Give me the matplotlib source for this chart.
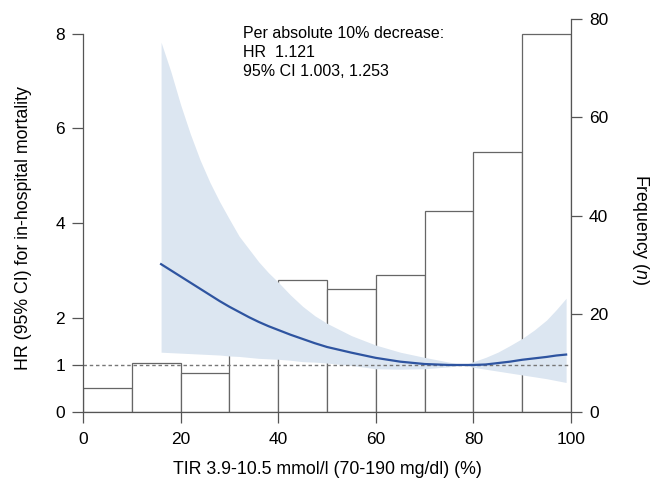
import matplotlib.pyplot as plt

plt.rcParams['font.family'] = ['Liberation Sans', 'DejaVu Sans']
plt.rcParams['mathtext.fontset'] = 'custom'
plt.rcParams['mathtext.rm'] = 'Liberation Sans'
plt.rcParams['mathtext.it'] = 'Liberation Sans:italic'

# histogram of TIR (bins of 10 %)
bin_left = [0, 10, 20, 30, 40, 50, 60, 70, 80, 90]
freq = [5, 10, 8, 18, 27, 25, 28, 41, 53, 77]

# spline HR curve with 95% CI
tir = [16, 18, 20, 22, 24, 26, 28, 30, 32, 34, 36, 38, 40, 42.5, 45, 47.5, 50, 55, 60, 65,
       70, 75, 78, 80, 82.5, 85, 87.5, 90, 92.5, 95, 97, 99]
hr = [3.13, 3.00, 2.87, 2.74, 2.61, 2.48, 2.35, 2.23, 2.12, 2.01, 1.91, 1.82, 1.74, 1.64,
      1.55, 1.46, 1.38, 1.26, 1.15, 1.07, 1.02, 1.00, 1.00, 1.00, 1.01, 1.04, 1.07, 1.11,
      1.14, 1.17, 1.20, 1.22]
hr_hi = [7.82, 7.20, 6.50, 5.88, 5.33, 4.86, 4.45, 4.08, 3.72, 3.45, 3.18, 2.95, 2.75, 2.48,
         2.24, 2.04, 1.88, 1.62, 1.42, 1.27, 1.16, 1.06, 1.00, 1.07, 1.16, 1.27, 1.41, 1.56,
         1.74, 1.95, 2.17, 2.41]
hr_lo = [1.27, 1.26, 1.25, 1.24, 1.23, 1.22, 1.21, 1.19, 1.18, 1.16, 1.14, 1.13, 1.12, 1.10,
         1.07, 1.06, 1.04, 0.99, 0.92, 0.91, 0.92, 0.96, 1.00, 0.95, 0.91, 0.87, 0.83, 0.79,
         0.75, 0.71, 0.67, 0.63]

note = "Per absolute 10% decrease:\nHR  1.121\n95% CI 1.003, 1.253"

W, H = 659, 484
fig = plt.figure(figsize=(W / 100, H / 100), dpi=100)
ax = fig.add_axes([83 / W, 1 - 412.3 / H, (571 - 83) / W, (412.3 - 19) / H])
ax2 = ax.twinx()
ax.set_zorder(ax2.get_zorder() + 1)
ax.patch.set_visible(False)

axis_col = '#555555'

# frequency bars (right axis)
ax2.bar(bin_left, freq, width=10, align='edge', facecolor='white',
        edgecolor='#666666', linewidth=0.9)
ax2.set_ylim(0, 80)
ax2.set_yticks([0, 20, 40, 60, 80])

# HR band + curve (left axis)
ax.fill_between(tir, hr_lo, hr_hi, color='#dce6f1', linewidth=0, zorder=1)
ax.axhline(1, color='#777777', linestyle=(0, (2.5, 2)), linewidth=1.0, zorder=2)
ax.plot(tir, hr, color='#2e54a0', linewidth=1.6, zorder=3)
ax.set_xlim(0, 100)
ax.set_ylim(0, 393.3 / 47.33)
ax.set_yticks([0, 1, 2, 4, 6, 8])
ax.set_xticks([0, 20, 40, 60, 80, 100])

for a in (ax, ax2):
    a.spines['top'].set_visible(False)
    a.tick_params(direction='out', length=8, width=0.9, color=axis_col,
                  labelsize=12.5, pad=5)
ax.spines['right'].set_visible(False)
ax2.spines['left'].set_visible(False)
ax2.spines['bottom'].set_visible(False)
ax.spines['left'].set_bounds(0, 8)
ax.spines['bottom'].set_bounds(0, 100)
ax2.spines['right'].set_bounds(0, 80)
for a, s in ((ax, 'left'), (ax, 'bottom'), (ax2, 'right')):
    a.spines[s].set_color(axis_col)
    a.spines[s].set_linewidth(0.9)
ax.tick_params(axis='x', pad=6)

ax.text(243 / W, 1 - 26 / H, note, transform=fig.transFigure, fontsize=11.5,
        ha='left', va='top', linespacing=1.35)

fig.text(24 / W, 1 - 228 / H, "HR (95% CI) for in-hospital mortality", rotation=90,
         ha='center', va='center', fontsize=12.8)
fig.text(641 / W, 1 - 230 / H, "Frequency ($\\it{n}$)", rotation=-90,
         ha='center', va='center', fontsize=12.8)
fig.text(327 / W, 1 - 469 / H, "TIR 3.9-10.5 mmol/l (70-190 mg/dl) (%)",
         ha='center', va='center', fontsize=12.8)

fig.savefig('out.png', dpi=100)
